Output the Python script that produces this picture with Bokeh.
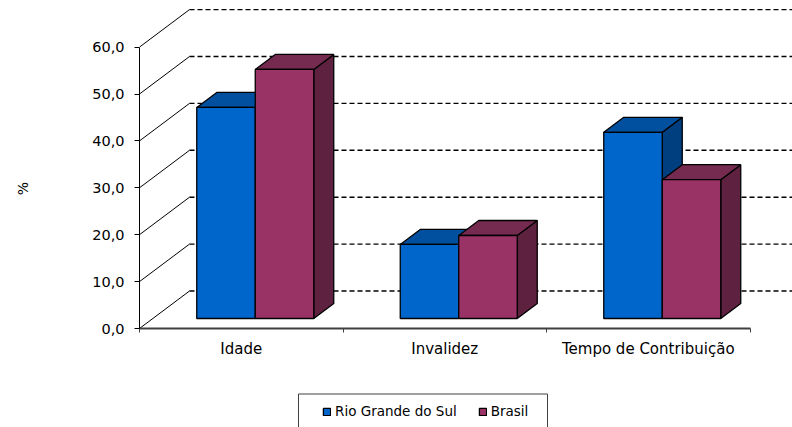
from math import pi
from bokeh.plotting import figure
from bokeh.layouts import column
from bokeh.models import Range1d, FixedTicker, Legend, LegendItem, Label
from bokeh.embed import file_html
from bokeh.resources import INLINE

categories = ["Idade", "Invalidez", "Tempo de Contribuição"]
rio_grande = [45.0, 15.8, 39.7]
brasil = [53.1, 17.7, 29.6]
y_ticks = [0, 10, 20, 30, 40, 50, 60]
y_labels = ["0,0", "10,0", "20,0", "30,0", "40,0", "50,0", "60,0"]
series_names = ["Rio Grande do Sul", "Brasil"]

FONT = "DejaVu Sans"
PX_X, PX_Y = 203.5, 46.9 / 10
WALL_DX, WALL_DY = 50 / PX_X, 37.5 / PX_Y
FRONT_DX, FRONT_DY = 14 / PX_X, 10 / PX_Y
DEPTH_DX, DEPTH_DY = 20 / PX_X, 15 / PX_Y
BAR_W = 58.5 / PX_X

W = 792
H1, H2 = 372, 55
LEFT = 139
BOTTOM_PX = 328

p = figure(width=W, height=H1, output_backend="svg", toolbar_location=None,
           min_border_left=LEFT, min_border_right=0, min_border_top=0, min_border_bottom=H1 - BOTTOM_PX,
           x_range=Range1d(0, (W - LEFT) / PX_X), y_range=Range1d(0, BOTTOM_PX / PX_Y),
           outline_line_color=None, background_fill_color="white", border_fill_color="white")
p.grid.visible = False

# y axis
ya = p.yaxis[0]
ya.ticker = FixedTicker(ticks=y_ticks)
ya.major_label_overrides = {t: l for t, l in zip(y_ticks, y_labels)}
ya.bounds = (0, 60)
ya.minor_tick_line_color = None
ya.major_tick_in = 0
ya.major_tick_out = 5
ya.axis_line_color = "black"
ya.major_tick_line_color = "black"
ya.major_label_text_font = FONT
ya.major_label_text_font_size = "14.5px"
ya.major_label_text_color = "black"
ya.major_label_standoff = 10

p.add_layout(Label(text="%", x=22, y=188, x_units="canvas", y_units="canvas", angle=pi / 2,
                   text_align="center", text_baseline="middle",
                   text_font=FONT, text_font_size="14px", text_color="black"), "left")

# x axis
xa = p.xaxis[0]
centers = [i + 0.5 for i in range(len(categories))]
xa.ticker = FixedTicker(ticks=centers, minor_ticks=list(range(len(categories) + 1)))
xa.major_label_overrides = {c: n for c, n in zip(centers, categories)}
xa.bounds = (0, len(categories))
xa.major_tick_in = 0
xa.major_tick_out = 0
xa.minor_tick_in = 0
xa.minor_tick_out = 4
xa.axis_line_color = "#404040"
xa.axis_line_width = 2
xa.minor_tick_line_color = "#404040"
xa.major_label_text_font = FONT
xa.major_label_text_font_size = "15px"
xa.major_label_text_color = "black"
xa.major_label_standoff = 7

# back wall
x_end = p.x_range.end
p.segment([0] * len(y_ticks), y_ticks, [WALL_DX] * len(y_ticks), [t + WALL_DY for t in y_ticks],
          line_color="black", line_width=1)
p.segment([WALL_DX] * len(y_ticks), [t + WALL_DY for t in y_ticks], [x_end] * len(y_ticks),
          [t + WALL_DY for t in y_ticks], line_color="black", line_width=1.4, line_dash="5 3")

# bars
COLORS = [("#0066CC", "#00509F", "#003F7F"), ("#993366", "#752A50", "#5F2140")]
for s, vals in enumerate([rio_grande, brasil]):
    front, top, side = COLORS[s]
    x0 = [i + 0.5 + FRONT_DX - BAR_W + s * BAR_W for i in range(len(vals))]
    x1 = [x + BAR_W for x in x0]
    y0 = FRONT_DY
    tops = [v + FRONT_DY for v in vals]
    top_xs = [[a, a + DEPTH_DX, b + DEPTH_DX, b] for a, b in zip(x0, x1)]
    top_ys = [[t, t + DEPTH_DY, t + DEPTH_DY, t] for t in tops]
    side_xs = [[b, b + DEPTH_DX, b + DEPTH_DX, b] for b in x1]
    side_ys = [[y0, y0 + DEPTH_DY, t + DEPTH_DY, t] for t in tops]
    p.patches(side_xs, side_ys, fill_color=side, line_color="black", line_width=1.3)
    p.patches(top_xs, top_ys, fill_color=top, line_color="black", line_width=1.3)
    p.quad(left=x0, right=x1, bottom=[y0] * len(vals), top=tops,
           fill_color=front, line_color="black", line_width=1.3)

# legend strip: a figure of its own, in pixel units, below the chart
leg = figure(width=W, height=H2, output_backend="svg", toolbar_location=None,
             min_border_left=LEFT, min_border_right=0, min_border_top=0, min_border_bottom=0,
             x_range=Range1d(LEFT, W), y_range=Range1d(H2, 0),
             x_axis_type=None, y_axis_type=None, outline_line_color=None,
             background_fill_color="white", border_fill_color="white")
leg.grid.visible = False
leg.quad(left=[298], right=[547], top=[21.5], bottom=[90], fill_color="white", line_color="#404040", line_width=1)
# swatch renderers sit outside the visible range; only their legend glyphs show
swatches = [leg.quad(left=[0], right=[1], top=[0], bottom=[1], fill_color=c[0], line_color="black", line_width=1.3)
            for c in COLORS]
legend = Legend(items=[LegendItem(label=n, renderers=[r]) for n, r in zip(series_names, swatches)],
                orientation="horizontal", location=(322 - LEFT, 8),
                background_fill_alpha=0, border_line_color=None,
                padding=0, margin=0, spacing=21, label_standoff=4,
                glyph_width=9, glyph_height=9, label_height=14,
                label_text_font=FONT, label_text_font_size="13.5px", label_text_color="black")
leg.add_layout(legend, "center")

open("out.html", "w").write(file_html(column(p, leg, spacing=0), INLINE))
